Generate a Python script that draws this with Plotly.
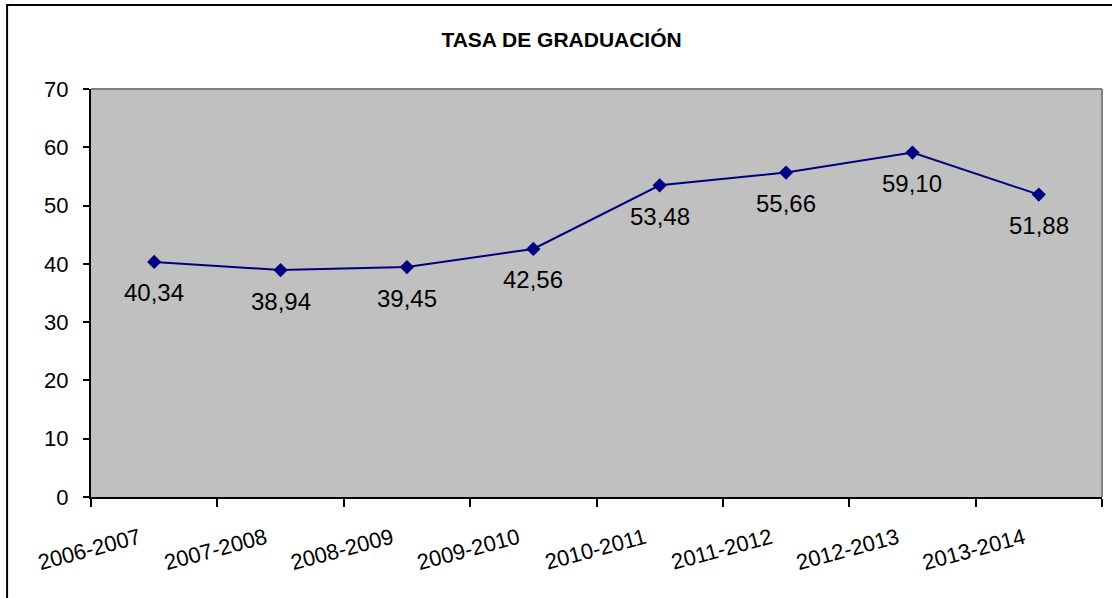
import plotly.graph_objects as go

categories = ["2006-2007", "2007-2008", "2008-2009", "2009-2010",
              "2010-2011", "2011-2012", "2012-2013", "2013-2014"]
tasa = [40.34, 38.94, 39.45, 42.56, 53.48, 55.66, 59.10, 51.88]
labels = [f"{v:.2f}".replace(".", ",") for v in tasa]
y_ticks = [0, 10, 20, 30, 40, 50, 60, 70]

FONT = "Liberation Sans, Arial, sans-serif"

fig = go.Figure()
fig.add_trace(go.Scatter(
    x=categories, y=tasa, mode="lines+markers",
    line=dict(color="#000080", width=2),
    marker=dict(symbol="diamond", size=11, color="#000080"),
    hoverinfo="x+y", showlegend=False,
))

for c, v, t in zip(categories, tasa, labels):
    fig.add_annotation(x=c, y=v, text=t, showarrow=False, yshift=-31,
                       font=dict(family=FONT, size=24, color="black"))

# plot-area top/right border (grey)
fig.add_shape(type="line", xref="paper", yref="paper", x0=0, x1=1, y0=1, y1=1,
              line=dict(color="#808080", width=2))
fig.add_shape(type="line", xref="paper", yref="paper", x0=1, x1=1, y0=0, y1=1,
              line=dict(color="#808080", width=2))
# outer chart border
fig.add_shape(type="rect", xref="paper", yref="paper",
              x0=-0.083, x1=1.02, y0=-0.27, y1=1.206,
              line=dict(color="black", width=2), fillcolor="rgba(0,0,0,0)")

fig.update_layout(
    width=1112, height=598,
    margin=dict(l=91, r=10, t=89, b=101),
    paper_bgcolor="white", plot_bgcolor="#C0C0C0",
    font=dict(family=FONT, size=22, color="black"),
    title=dict(text="<b>TASA DE GRADUACIÓN</b>", xref="container", x=0.505,
               yref="container", y=1 - 40 / 598, xanchor="center", yanchor="middle",
               font=dict(family=FONT, size=21, color="black")),
    xaxis=dict(type="category", tickson="boundaries", ticks="outside", ticklen=8,
               tickwidth=2, tickcolor="black", showline=True, linecolor="black",
               linewidth=2, showgrid=False, tickangle=-15, zeroline=False,
               range=[-0.5, 7.5], tickfont=dict(family=FONT, size=22),
               ticklabelstandoff=18, ticklabelshift=-15),
    yaxis=dict(range=[0, 70], tickvals=y_ticks, ticks="outside", ticklen=6,
               tickwidth=2, tickcolor="black", showline=True, linecolor="black",
               linewidth=2, showgrid=False, zeroline=False,
               tickfont=dict(family=FONT, size=22), ticklabelstandoff=10),
)

fig.write_html(
    "out.html",
    config={"displayModeBar": False},
    post_script="document.body.style.margin='0';document.body.style.overflow='hidden';",
)
